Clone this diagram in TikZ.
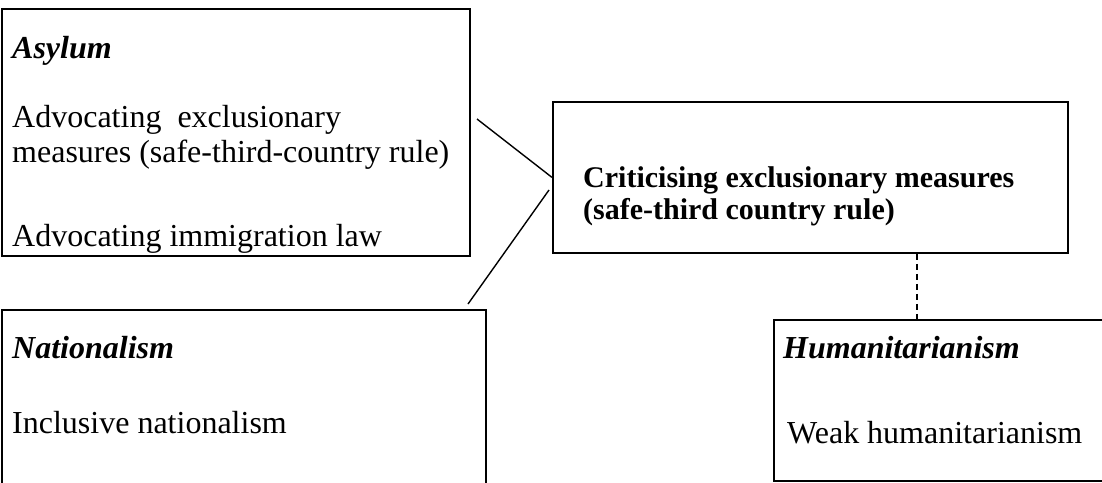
\documentclass[tikz,border=0pt]{standalone}
\usepackage{fontspec}
\setmainfont{Liberation Serif}
\begin{document}
\begin{tikzpicture}[x=1pt,y=-1pt,
  frame/.style={draw,line width=1.8pt,rectangle,inner sep=0pt,anchor=north west},
  txt/.style={anchor=base west,inner sep=0pt,font=\fontsize{32}{35}\selectfont},
  head/.style={txt,font=\fontsize{32}{35}\selectfont\bfseries\itshape},
  crittxt/.style={txt,font=\fontsize{30}{33}\selectfont\bfseries},
  link/.style={line width=1.4pt},
  weaklink/.style={line width=1.6pt,dash pattern=on 6pt off 4pt}]
\useasboundingbox (0,0) rectangle (1102,482);
\clip (0,0) rectangle (1102,482);

% frames
\node[frame,minimum width=468pt,minimum height=247pt] (asylum) at (1,8) {};
\node[frame,minimum width=515pt,minimum height=151pt] (crit) at (552,101) {};
\node[frame,minimum width=484pt,minimum height=200pt] (nation) at (1,309) {};
\node[frame,minimum width=400pt,minimum height=161pt] (human) at (773,319) {};

% texts
\node[head] (asylumhead) at (12,58) {Asylum};
\node[txt] (asyl1) at (12,127) {Advocating\ \ exclusionary};
\node[txt] (asyl2) at (12,162) {measures (safe-third-country rule)};
\node[txt] (asyl3) at (12,246) {Advocating immigration law};

\node[crittxt] (crit1) at (583,187) {Criticising exclusionary measures};
\node[crittxt] (crit2) at (583,219) {(safe-third country rule)};

\node[head] (nationhead) at (12,358) {Nationalism};
\node[txt] (nation1) at (12,433) {Inclusive nationalism};

\node[head] (humanhead) at (783,358) {Humanitarianism};
\node[txt] (human1) at (787,443) {Weak humanitarianism};

% connectors
\coordinate (asylumend) at (477,119);
\coordinate (critlow) at (549,190);
\coordinate (nationend) at (468,304);
\coordinate (dashx) at (917,0);
\draw[link] (asylumend) -- (crit.west);
\draw[link] (critlow) -- (nationend);
\draw[weaklink] (crit.south -| dashx) -- (human.north -| dashx);
\end{tikzpicture}
\end{document}
